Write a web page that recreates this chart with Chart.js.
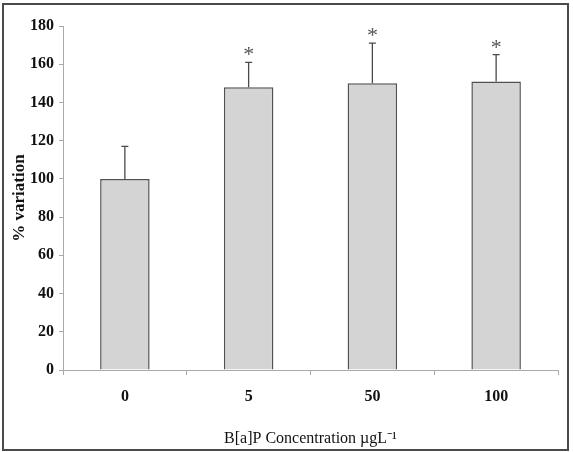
<!DOCTYPE html>
<html>
<head>
<meta charset="utf-8">
<script src="https://cdn.jsdelivr.net/npm/chart.js@4"></script>
<style>
html,body{margin:0;padding:0;background:#fff;}
#wrap{position:relative;width:573px;height:452px;}
#frame{position:absolute;left:2px;top:3px;width:563px;height:444px;border:2px solid #4a4a4a;pointer-events:none;}
canvas{position:absolute;left:0;top:0;}
</style>
</head>
<body>
<div id="wrap">
<canvas id="c" width="573" height="452"></canvas>
<div id="frame"></div>
</div>
<script>
const categories = ["0", "5", "50", "100"];
const values = [100, 148, 150, 151];
const errorUpper = [17, 13, 21, 14];
const significance = ["", "*", "*", "*"];
const yTicks = [0, 20, 40, 60, 80, 100, 120, 140, 160, 180];

const errorBarPlugin = {
  id: 'errorBars',
  afterDatasetsDraw(chart) {
    const ctx = chart.ctx;
    const meta = chart.getDatasetMeta(0);
    const y = chart.scales.y;
    ctx.save();
    meta.data.forEach((bar, i) => {
      const x = bar.x;
      const yTop = y.getPixelForValue(values[i]);
      const yErr = y.getPixelForValue(values[i] + errorUpper[i]);
      ctx.strokeStyle = '#4a4a4a';
      ctx.lineWidth = 1.3;
      ctx.beginPath();
      ctx.moveTo(x, yTop);
      ctx.lineTo(x, yErr);
      ctx.moveTo(x - 3.5, yErr);
      ctx.lineTo(x + 3.5, yErr);
      ctx.stroke();
      if (significance[i]) {
        ctx.fillStyle = '#555';
        ctx.font = '22px "Liberation Serif"';
        ctx.textAlign = 'center';
        ctx.textBaseline = 'alphabetic';
        ctx.fillText(significance[i], x, yErr - 1);
      }
    });
    ctx.restore();
  }
};

new Chart(document.getElementById('c'), {
  type: 'bar',
  data: {
    labels: categories,
    datasets: [{
      data: values,
      backgroundColor: '#d4d4d4',
      borderColor: '#505050',
      borderWidth: 1.5,
      barPercentage: 0.4,
      categoryPercentage: 1.0
    }]
  },
  options: {
    responsive: false,
    animation: false,
    layout: { padding: { left: 0, top: 26, right: 15, bottom: 0 } },
    plugins: { legend: { display: false }, tooltip: { enabled: false } },
    scales: {
      x: {
        offset: true,
        grid: { offset: true, drawOnChartArea: false, drawTicks: true, tickLength: 5, color: '#aaaaaa' },
        border: { color: '#aaaaaa', width: 1 },
        ticks: { color: '#111', font: { family: '"Liberation Serif"', size: 16, weight: 'bold' }, padding: 12 },
        title: { display: true, text: 'B[a]P Concentration µgL⁻¹', color: '#111', font: { family: '"Liberation Serif"', size: 16 }, padding: { top: 10, bottom: 4 } },
        afterFit(s) { s.height = 82; }
      },
      y: {
        min: 0, max: 180,
        afterBuildTicks(s) { s.ticks = yTicks.map(v => ({ value: v })); },
        grid: { drawOnChartArea: false, drawTicks: true, tickLength: 4, color: '#aaaaaa' },
        border: { color: '#aaaaaa', width: 1 },
        ticks: { color: '#111', font: { family: '"Liberation Serif"', size: 16, weight: 'bold' }, padding: 5 },
        title: { display: true, text: '% variation', color: '#111', font: { family: '"Liberation Serif"', size: 17, weight: 'bold' }, padding: { top: 9, bottom: 0 } },
        afterFit(s) { s.width = 63; }
      }
    }
  },
  plugins: [errorBarPlugin]
});
</script>
</body>
</html>
